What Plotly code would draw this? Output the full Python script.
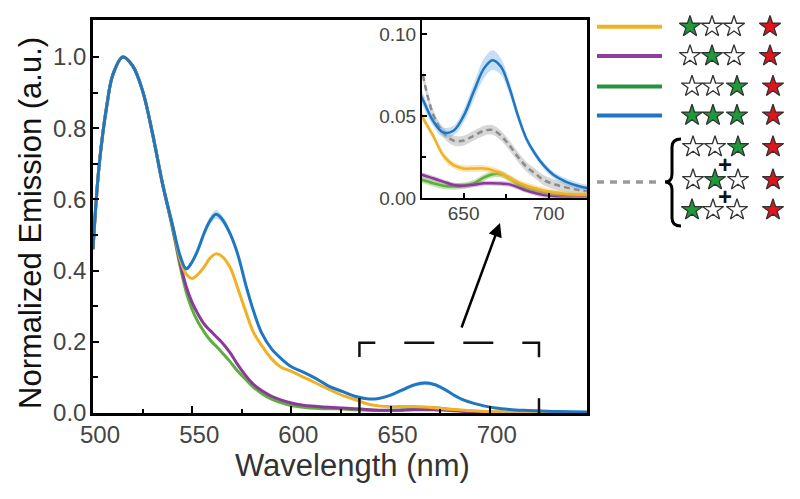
import plotly.graph_objects as go

# ---------------- data ----------------
wavelength = [500, 503, 507, 510, 515, 520, 525, 530, 535, 540,
              544, 547, 550, 553, 556, 559, 562, 565, 569, 573,
              577, 581, 585, 590, 595, 600, 606, 612, 619, 626,
              632, 638, 644, 650, 656, 662, 667, 672, 677, 682,
              687, 692, 697, 703, 710, 717, 723, 735, 749]

blue = [0.46, 0.69, 0.865, 0.95, 1.0, 0.975, 0.905, 0.785, 0.645, 0.53,
        0.44, 0.405, 0.425, 0.46, 0.505, 0.54, 0.558, 0.545, 0.505, 0.445,
        0.36, 0.285, 0.225, 0.18, 0.152, 0.13, 0.115, 0.098, 0.075, 0.06,
        0.047, 0.040, 0.041, 0.050, 0.065, 0.079, 0.084, 0.080, 0.067, 0.050,
        0.036, 0.027, 0.020, 0.014, 0.010, 0.0075, 0.006, 0.004, 0.003]

orange = [0.46, 0.69, 0.865, 0.95, 1.0, 0.975, 0.905, 0.785, 0.645, 0.53,
          0.43, 0.39, 0.378, 0.39, 0.41, 0.435, 0.447, 0.44, 0.41, 0.35,
          0.285, 0.225, 0.19, 0.152, 0.128, 0.117, 0.101, 0.085, 0.066, 0.049,
          0.038, 0.026, 0.020, 0.018, 0.018, 0.018, 0.017, 0.015, 0.012, 0.0095,
          0.0075, 0.006, 0.0045, 0.0033, 0.0025, 0.002, 0.002, 0.001, 0.001]

purple = [0.46, 0.69, 0.865, 0.95, 1.0, 0.975, 0.905, 0.785, 0.645, 0.525,
          0.42, 0.355, 0.31, 0.277, 0.25, 0.232, 0.215, 0.198, 0.17, 0.135,
          0.105, 0.08, 0.063, 0.047, 0.036, 0.028, 0.022, 0.019, 0.016, 0.014,
          0.012, 0.010, 0.008, 0.0075, 0.008, 0.009, 0.009, 0.0088, 0.0083, 0.0065,
          0.0045, 0.003, 0.0018, 0.0012, 0.001, 0.001, 0.001, 0.0005, 0.0005]

green = [0.46, 0.69, 0.865, 0.95, 1.0, 0.975, 0.905, 0.785, 0.645, 0.52,
         0.41, 0.34, 0.29, 0.255, 0.228, 0.205, 0.188, 0.17, 0.145, 0.117,
         0.094, 0.072, 0.055, 0.039, 0.029, 0.021, 0.016, 0.013, 0.012, 0.011,
         0.009, 0.0075, 0.007, 0.0075, 0.009, 0.0125, 0.0145, 0.0145, 0.012, 0.0085,
         0.006, 0.0045, 0.0033, 0.0025, 0.0015, 0.001, 0.001, 0.0005, 0.0005]

blue_err = [0.004, 0.004, 0.004, 0.004, 0.004, 0.004, 0.004, 0.004, 0.004, 0.004,
            0.005, 0.006, 0.007, 0.009, 0.011, 0.012, 0.012, 0.011, 0.009, 0.007,
            0.006, 0.005, 0.004, 0.004, 0.004, 0.004, 0.004, 0.004, 0.004, 0.004,
            0.003, 0.003, 0.003, 0.004, 0.005, 0.006, 0.006, 0.005, 0.004, 0.003,
            0.002, 0.002, 0.002, 0.002, 0.002, 0.002, 0.002, 0.002, 0.002]

# summed single-dye spectra (inset only)
sum_wavelength = [626, 632, 638, 644, 650, 656, 662, 667, 672, 677,
                  682, 687, 692, 697, 703, 710, 717, 723]
sum_gray = [0.075, 0.051, 0.040, 0.035, 0.035, 0.038, 0.041, 0.0415, 0.038, 0.032,
            0.025, 0.019, 0.015, 0.011, 0.0085, 0.0065, 0.005, 0.004]

orange_err, purple_err, green_err, gray_err = 0.002, 0.0015, 0.002, 0.003

main_xticks = [500, 550, 600, 650, 700]
main_xminor = [525, 575, 625, 675, 725]
main_yticks = [0.0, 0.2, 0.4, 0.6, 0.8, 1.0]
main_yticklabels = ["0.0", "0.2", "0.4", "0.6", "0.8", "1.0"]
main_yminor = [0.1, 0.3, 0.5, 0.7, 0.9]
inset_xticks = [650, 700]
inset_xminor = [675]
inset_yticks = [0.0, 0.05, 0.10]
inset_yticklabels = ["0.00", "0.05", "0.10"]
inset_yminor = [0.025, 0.075]

# ---------------- styling ----------------
W, H = 800, 499
FONT = "Liberation Sans, Arial, sans-serif"
C_ORANGE = "#F2B124"
C_PURPLE = "#8A3A9A"
C_GREEN = "#5EAE3C"
C_BLUE = "#1F77C4"
C_GRAY = "#8C8C8C"


def px(x):
    return x / W


def py(y):
    return 1 - y / H


fig = go.Figure()


def add_series(xs, vals, errs, color, band, axes, dash="solid"):
    if not isinstance(errs, list):
        errs = [errs] * len(vals)
    up = [v + e for v, e in zip(vals, errs)]
    lo = [max(v - e, 0) for v, e in zip(vals, errs)]
    for xa, ya in axes:
        fig.add_trace(go.Scatter(x=xs, y=up, mode="lines", xaxis=xa, yaxis=ya,
                                 line=dict(width=0, shape="spline", color=band),
                                 hoverinfo="skip", showlegend=False))
        fig.add_trace(go.Scatter(x=xs, y=lo, mode="lines", xaxis=xa, yaxis=ya,
                                 fill="tonexty", fillcolor=band,
                                 line=dict(width=0, shape="spline", color=band),
                                 hoverinfo="skip", showlegend=False))
        fig.add_trace(go.Scatter(x=xs, y=vals, mode="lines", xaxis=xa, yaxis=ya,
                                 line=dict(width=3 if xa == "x" else 2.5, color=color,
                                           shape="spline", dash=dash),
                                 showlegend=False))


both = [("x", "y"), ("x2", "y2")]
add_series(sum_wavelength, sum_gray, gray_err, C_GRAY, "rgba(140,140,140,0.35)",
           [("x2", "y2")], dash="6px,4px")
add_series(wavelength, green, green_err, C_GREEN, "rgba(120,190,80,0.45)", both)
add_series(wavelength, purple, purple_err, C_PURPLE, "rgba(150,90,170,0.35)", both)
add_series(wavelength, orange, orange_err, C_ORANGE, "rgba(245,190,70,0.4)", both)
add_series(wavelength, blue, blue_err, C_BLUE, "rgba(90,160,220,0.35)", both)

# ---------------- legend (decorative overlay axes in pixel units) ----------------
GREEN_STAR = "#1E9A3A"
RED_STAR = "#E3121B"
WHITE_STAR = "#FFFFFF"
legend_rows = [
    (26.7, [(690, GREEN_STAR), (712, WHITE_STAR), (734, WHITE_STAR), (770, RED_STAR)]),
    (56.0, [(690, WHITE_STAR), (712, GREEN_STAR), (734, WHITE_STAR), (770, RED_STAR)]),
    (86.5, [(692, WHITE_STAR), (713, WHITE_STAR), (737, GREEN_STAR), (773, RED_STAR)]),
    (115.5, [(692, GREEN_STAR), (713, GREEN_STAR), (737, GREEN_STAR), (773, RED_STAR)]),
    (147.0, [(693, WHITE_STAR), (715, WHITE_STAR), (738, GREEN_STAR), (773, RED_STAR)]),
    (180.0, [(693, WHITE_STAR), (715, GREEN_STAR), (738, WHITE_STAR), (773, RED_STAR)]),
    (210.0, [(692, GREEN_STAR), (713, WHITE_STAR), (737, WHITE_STAR), (773, RED_STAR)]),
]
sx, sy, sc = [], [], []
for yrow, stars in legend_rows:
    for xs_, col in stars:
        sx.append(xs_)
        sy.append(yrow)
        sc.append(col)
fig.add_trace(go.Scatter(x=sx, y=sy, mode="markers", xaxis="x3", yaxis="y3",
                         marker=dict(symbol="star", size=16, color=sc,
                                     line=dict(color="#333333", width=1.3)),
                         hoverinfo="skip", showlegend=False))

legend_lines = [(26.7, "#F2B124"), (56.0, "#8E3E9E"), (86.5, "#23943F"), (115.5, "#1F77C4")]
shapes = []
for yl, col in legend_lines:
    shapes.append(dict(type="line", xref="x3", yref="y3", x0=597, x1=662, y0=yl, y1=yl,
                       line=dict(color=col, width=4)))
shapes.append(dict(type="line", xref="x3", yref="y3", x0=597, x1=657, y0=182, y1=182,
                   line=dict(color="#999999", width=3.5, dash="7px,6px")))
# curly brace
shapes.append(dict(type="path", xref="x3", yref="y3",
                   path="M 681,139 Q 672,139 672,147 L 672,174 Q 672,182 665,182 "
                        "Q 672,182 672,190 L 672,218 Q 672,226 681,226",
                   line=dict(color="black", width=3)))
# dashed zoom box on the main plot
shapes.append(dict(type="path", xref="x", yref="y",
                   path="M 634.3,0 L 634.3,0.197 L 724.8,0.197 L 724.8,0",
                   line=dict(color="#111111", width=2.5,
                             dash="15px,41px,30px,29px,30px,29px,30px,29px,31px,41px,15px")))

annotations = [
    dict(text="<b>+</b>", x=725, y=164, xref="x3", yref="y3", showarrow=False,
         xanchor="center", yanchor="middle",
         font=dict(family=FONT, size=24, color="#111111")),
    dict(text="<b>+</b>", x=725, y=196, xref="x3", yref="y3", showarrow=False,
         xanchor="center", yanchor="middle",
         font=dict(family=FONT, size=24, color="#111111")),
    dict(text="", x=500, y=223, xref="x3", yref="y3", ax=461, ay=329,
         axref="x3", ayref="y3", showarrow=True, arrowhead=2, arrowsize=1.1,
         arrowwidth=2.5, arrowcolor="black"),
    dict(text="Wavelength (nm)", x=px(352), y=py(465), xref="paper", yref="paper",
         xanchor="center", yanchor="middle",
         showarrow=False, font=dict(family=FONT, size=31, color="#333333")),
    dict(text="Normalized Emission (a.u.)", x=px(30), y=py(223), xref="paper",
         yref="paper", showarrow=False, textangle=-90,
         xanchor="center", yanchor="middle",
         font=dict(family=FONT, size=31, color="#111111")),
]

tickfont_main = dict(family=FONT, size=24, color="#444444")
tickfont_inset = dict(family=FONT, size=19, color="#444444")

fig.update_layout(
    template="none",
    width=W, height=H,
    margin=dict(l=0, r=0, t=0, b=0, pad=0, autoexpand=False),
    paper_bgcolor="white",
    plot_bgcolor="rgba(0,0,0,0)",
    font=dict(family=FONT, color="#444444"),
    showlegend=False,
    shapes=shapes,
    annotations=annotations,
    xaxis=dict(domain=[px(93), px(587)], range=[500, 749], anchor="y",
               automargin=False,
               tickvals=main_xticks, ticks="inside", ticklen=7, tickwidth=2,
               tickcolor="black", showline=True, linewidth=2.5, linecolor="black",
               mirror=True, showgrid=False, zeroline=False, tickfont=tickfont_main,
               ticklabelshift=7, ticklabelstandoff=-2,
               minor=dict(tickvals=main_xminor, ticks="inside", ticklen=4,
                          tickwidth=2, tickcolor="black", showgrid=False)),
    yaxis=dict(domain=[py(413), py(20)], range=[0, 1.104], anchor="x",
               automargin=False,
               tickvals=main_yticks, ticktext=main_yticklabels, ticks="inside",
               ticklen=6, tickwidth=2, tickcolor="black", showline=True,
               linewidth=2.5, linecolor="black", mirror=True, showgrid=False,
               zeroline=False, tickfont=tickfont_main, ticklabelstandoff=-1,
               minor=dict(tickvals=main_yminor, ticks="inside", ticklen=5,
                          tickwidth=2, tickcolor="black", showgrid=False)),
    xaxis2=dict(domain=[px(422), px(587)], range=[625.5, 722.6], anchor="y2",
                automargin=False,
                tickvals=inset_xticks, ticks="inside", ticklen=5, tickwidth=1.5,
                tickcolor="black", showline=True, linewidth=2, linecolor="black",
                showgrid=False, zeroline=False, tickfont=tickfont_inset,
                ticklabelstandoff=-3,
                minor=dict(tickvals=inset_xminor, ticks="inside", ticklen=4,
                           tickwidth=1.5, tickcolor="black", showgrid=False)),
    yaxis2=dict(domain=[py(198), py(20)], range=[0, 0.1085], anchor="x2",
                automargin=False,
                tickvals=inset_yticks, ticktext=inset_yticklabels, ticks="inside",
                ticklen=5, tickwidth=1.5, tickcolor="black", showline=True,
                linewidth=2, linecolor="black", showgrid=False, zeroline=False,
                tickfont=tickfont_inset, ticklabelstandoff=0,
                minor=dict(tickvals=inset_yminor, ticks="inside", ticklen=4,
                           tickwidth=1.5, tickcolor="black", showgrid=False)),
    xaxis3=dict(domain=[0, 1], range=[0, W], anchor="y3", visible=False,
                fixedrange=True, automargin=False),
    yaxis3=dict(domain=[0, 1], range=[H, 0], anchor="x3", visible=False,
                fixedrange=True, automargin=False),
)

fig.write_html("out.html", config={"displayModeBar": False},
               post_script="document.body.style.margin='0px';")
